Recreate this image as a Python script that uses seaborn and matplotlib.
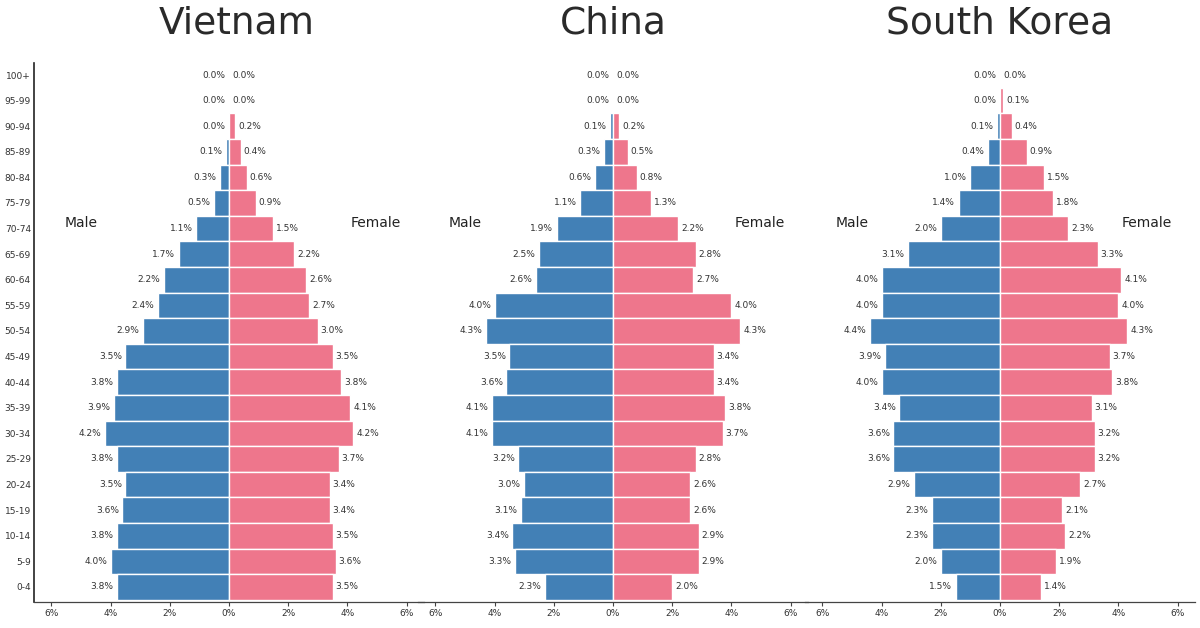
import matplotlib
matplotlib.use("Agg")
import matplotlib.pyplot as plt
import seaborn as sns

sns.set_theme(style="white")
plt.rcParams['font.family'] = ['DejaVu Sans']

ages = ["100+", "95-99", "90-94", "85-89", "80-84", "75-79", "70-74", "65-69",
        "60-64", "55-59", "50-54", "45-49", "40-44", "35-39", "30-34", "25-29",
        "20-24", "15-19", "10-14", "5-9", "0-4"]

vietnam_male = [0.0, 0.0, 0.0, 0.1, 0.3, 0.5, 1.1, 1.7, 2.2, 2.4, 2.9, 3.5,
                3.8, 3.9, 4.2, 3.8, 3.5, 3.6, 3.8, 4.0, 3.8]
vietnam_female = [0.0, 0.0, 0.2, 0.4, 0.6, 0.9, 1.5, 2.2, 2.6, 2.7, 3.0, 3.5,
                  3.8, 4.1, 4.2, 3.7, 3.4, 3.4, 3.5, 3.6, 3.5]
china_male = [0.0, 0.0, 0.1, 0.3, 0.6, 1.1, 1.9, 2.5, 2.6, 4.0, 4.3, 3.5,
              3.6, 4.1, 4.1, 3.2, 3.0, 3.1, 3.4, 3.3, 2.3]
china_female = [0.0, 0.0, 0.2, 0.5, 0.8, 1.3, 2.2, 2.8, 2.7, 4.0, 4.3, 3.4,
                3.4, 3.8, 3.7, 2.8, 2.6, 2.6, 2.9, 2.9, 2.0]
korea_male = [0.0, 0.0, 0.1, 0.4, 1.0, 1.4, 2.0, 3.1, 4.0, 4.0, 4.4, 3.9,
              4.0, 3.4, 3.6, 3.6, 2.9, 2.3, 2.3, 2.0, 1.5]
korea_female = [0.0, 0.1, 0.4, 0.9, 1.5, 1.8, 2.3, 3.3, 4.1, 4.0, 4.3, 3.7,
                3.8, 3.1, 3.2, 3.2, 2.7, 2.1, 2.2, 1.9, 1.4]

countries = ["Vietnam", "China", "South Korea"]
males = [vietnam_male, china_male, korea_male]
females = [vietnam_female, china_female, korea_female]

x_ticks = [-6, -4, -2, 0, 2, 4, 6]
x_ticklabels = ["6%", "4%", "2%", "0%", "2%", "4%", "6%"]

blue = "#4280b6"
pink = "#ee768c"
txt = "#333333"

W, H = 1200, 628
fig = plt.figure(figsize=(12, 6.28), dpi=100)

centers = [229, 613, 1000]
px_per_unit = 29.6
xlim = 6.6
top_px, bottom_px = 63, 602

for i, country in enumerate(countries):
    half = xlim * px_per_unit
    left = (centers[i] - half) / W
    width = 2 * half / W
    bottom = 1 - bottom_px / H
    height = (bottom_px - top_px) / H
    ax = fig.add_axes([left, bottom, width, height])
    ax.set_facecolor("none")

    male_neg = [-v for v in males[i]]
    sns.barplot(x=male_neg, y=ages, orient="h", color=blue, saturation=1,
                width=1.0, edgecolor="white", linewidth=1, ax=ax)
    sns.barplot(x=females[i], y=ages, orient="h", color=pink, saturation=1,
                width=1.0, edgecolor="white", linewidth=1, ax=ax)

    for j, (m, f) in enumerate(zip(males[i], females[i])):
        ax.text(-m - 0.12, j, f"{m:.1f}%", ha="right", va="center",
                fontsize=6.5, color=txt)
        ax.text(f + 0.1, j, f"{f:.1f}%", ha="left", va="center",
                fontsize=6.5, color=txt)

    ax.text(-5.0, 5.8, "Male", ha="center", va="center", fontsize=10, color="#222222")
    ax.text(4.95, 5.8, "Female", ha="center", va="center", fontsize=10, color="#222222")

    ax.set_xlim(-xlim, xlim)
    ax.set_ylim(20.59, -0.47)
    ax.set_xticks(x_ticks)
    ax.set_xticklabels(x_ticklabels, fontsize=6.5, color=txt)
    ax.tick_params(axis="x", length=3, width=0.8, color="#444444", pad=2, bottom=True)
    ax.set_xlabel("")
    ax.set_ylabel("")

    ax.spines["top"].set_visible(False)
    ax.spines["right"].set_visible(False)
    ax.spines["bottom"].set_color("#444444")
    ax.spines["bottom"].set_linewidth(0.9)
    if i == 0:
        ax.spines["left"].set_color("#222222")
        ax.spines["left"].set_linewidth(1.2)
        ax.tick_params(axis="y", length=0, labelsize=6.5, labelcolor=txt, pad=2)
    else:
        ax.spines["left"].set_visible(False)
        ax.set_yticklabels([])
        ax.tick_params(axis="y", length=0)

    title_x = 0.52 if i == 0 else 0.5
    ax.set_title(country, fontsize=27, color="#2a2a2a", pad=21, x=title_x)

fig.savefig("out.png", dpi=100)
